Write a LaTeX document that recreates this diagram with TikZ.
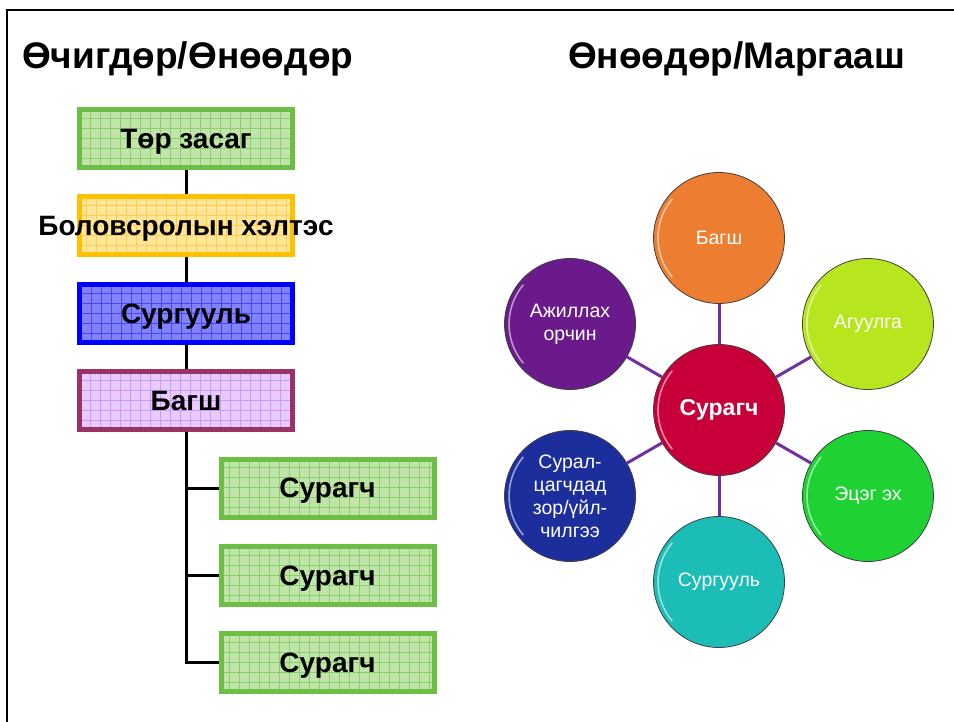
\documentclass[tikz,border=0pt]{standalone}
\usepackage{fontspec}
\setmainfont{Liberation Sans}

% box colours (border, fill, grid)
\definecolor{grnline}{RGB}{109,190,69}
\definecolor{grnfill}{RGB}{193,228,170}
\definecolor{grngrid}{RGB}{140,208,108}
\definecolor{ylwline}{RGB}{255,192,0}
\definecolor{ylwfill}{RGB}{255,230,153}
\definecolor{ylwgrid}{RGB}{255,206,80}
\definecolor{bluline}{RGB}{0,0,255}
\definecolor{blufill}{RGB}{130,130,255}
\definecolor{blugrid}{RGB}{70,70,255}
\definecolor{lavline}{RGB}{153,51,102}
\definecolor{lavfill}{RGB}{232,204,255}
\definecolor{lavgrid}{RGB}{206,152,255}

% bubble colours
\definecolor{bubcenter}{RGB}{200,0,58}
\definecolor{buborange}{RGB}{237,125,49}
\definecolor{bublime}{RGB}{184,230,30}
\definecolor{bubgreen}{RGB}{30,210,52}
\definecolor{bubteal}{RGB}{27,189,182}
\definecolor{bubnavy}{RGB}{28,46,156}
\definecolor{bubpurple}{RGB}{106,26,138}
\definecolor{linkpurple}{RGB}{112,48,160}

\tikzset{
  orgbox/.style n args={3}{draw=#1, fill=#2, line width=5pt,
    minimum width=213pt, minimum height=58pt, inner sep=0pt, text depth=0pt,
    font=\fontsize{28}{31}\selectfont\bfseries,
    path picture={\draw[#3, line width=0.7pt]
      (path picture bounding box.south west) grid[step=10pt]
      (path picture bounding box.north east);}},
  bubble/.style={circle, draw=black!75, line width=0.8pt, fill=#1,
    minimum size=131pt, inner sep=0pt, text=white, align=center,
    font=\fontsize{19.5}{23}\selectfont,
    path picture={\draw[white, opacity=0.55, line width=1.6pt]
      (path picture bounding box.center) ++(220:61pt)
      arc[start angle=220, end angle=140, radius=61pt];}},
  tree/.style={draw=black, line width=3pt},
  link/.style={draw=linkpurple, line width=3pt},
  heading/.style={anchor=base west, inner sep=0pt,
    font=\fontsize{37}{40}\selectfont\bfseries}
}

\begin{document}
\begin{tikzpicture}[x=1pt,y=-1pt]
            \useasboundingbox (0.000000,0.000000) rectangle (954.000000,722.000000);

            % Drawing frame
            \draw [line width=2.2pt] (7.000000,722.000000) -- (7.000000,10.000000) -- (954.000000,10.000000);%

            % Headings
            \node [heading] (hleft) at (22.000000,68.500000) {Өчигдөр/Өнөөдөр};%
            \node [heading] (hright) at (568.000000,68.500000) {Өнөөдөр/Маргааш};%

            % Drawing hierarchy boxes
            \node [orgbox={grnline}{grnfill}{grngrid}] (toer) at (186.000000,138.500000) {Төр засаг};%
            \node [orgbox={ylwline}{ylwfill}{ylwgrid}] (helt) at (186.000000,225.500000) {\makebox[0pt]{Боловсролын хэлтэс}};%
            \node [orgbox={bluline}{blufill}{blugrid}] (surg) at (186.000000,313.500000) {Сургууль};%
            \node [orgbox={lavline}{lavfill}{lavgrid}] (bagsh) at (186.000000,400.500000) {Багш};%
            \node [orgbox={grnline}{grnfill}{grngrid}] (sur1) at (327.500000,488.000000) {Сурагч};%
            \node [orgbox={grnline}{grnfill}{grngrid}] (sur2) at (327.500000,575.500000) {Сурагч};%
            \node [orgbox={grnline}{grnfill}{grngrid}] (sur3) at (327.500000,662.500000) {Сурагч};%

            % Drawing tree lines
            \draw [tree] (toer) -- (helt);%
            \draw [tree] (helt) -- (surg);%
            \draw [tree] (surg) -- (bagsh);%
            \draw [tree] (bagsh.south) |- (sur1.west);%
            \draw [tree] (bagsh.south) |- (sur2.west);%
            \draw [tree] (bagsh.south) |- (sur3.west);%

            % Drawing bubbles
            \node [bubble=bubcenter, font=\fontsize{23}{26}\selectfont\bfseries] (pupil) at (719.000000,410.000000) {Сурагч};%
            \node [bubble=buborange] (teacher) at ([shift={(90:172pt)}]pupil) {Багш};%
            \node [bubble=bublime] (content) at ([shift={(30:172pt)}]pupil) {Агуулга};%
            \node [bubble=bubgreen] (parents) at ([shift={(-30:172pt)}]pupil) {Эцэг эх};%
            \node [bubble=bubteal] (school) at ([shift={(-90:172pt)}]pupil) {Сургууль};%
            \node [bubble=bubnavy] (service) at ([shift={(-150:172pt)}]pupil) {Сурал-\\цагчдад\\зор/үйл-\\чилгээ};%
            \node [bubble=bubpurple] (workenv) at ([shift={(150:172pt)}]pupil) {Ажиллах\\орчин};%

            % Drawing links
            \draw [link] (pupil) -- (teacher);%
            \draw [link] (pupil) -- (content);%
            \draw [link] (pupil) -- (parents);%
            \draw [link] (pupil) -- (school);%
            \draw [link] (pupil) -- (service);%
            \draw [link] (pupil) -- (workenv);%
\end{tikzpicture}
\end{document}
